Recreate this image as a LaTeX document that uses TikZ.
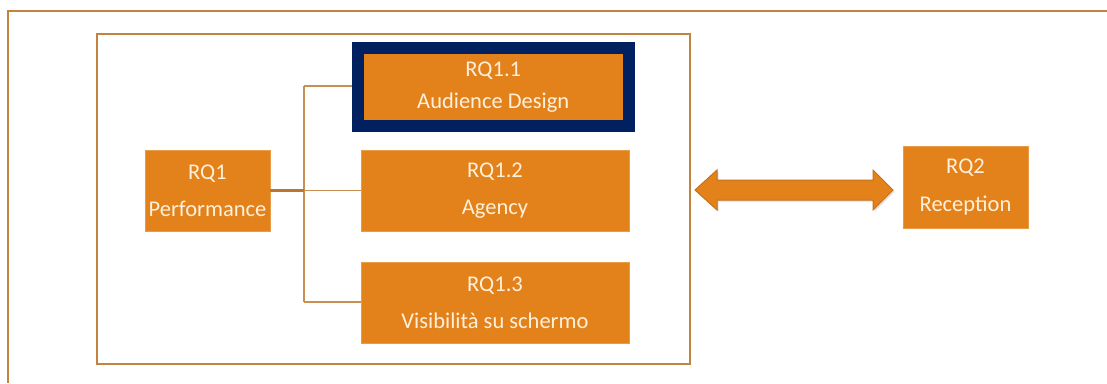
\documentclass[tikz,border=0pt]{standalone}
\usepackage{fontspec}
\setmainfont{Carlito}
\usetikzlibrary{calc}
\definecolor{boxorange}{HTML}{E3821A}
\definecolor{frameline}{HTML}{C2833E}
\definecolor{linkline}{HTML}{C98E52}
\definecolor{stemline}{HTML}{BC7630}
\definecolor{navy}{HTML}{002060}
\definecolor{paletext}{HTML}{FFF0DC}
\definecolor{arrowedge}{HTML}{C7711A}
\tikzset{
  rqbox/.style={fill=boxorange, draw=boxorange!80!white, line width=0.8pt,
    text=paletext, align=center, inner sep=0pt},
  link/.style={draw=linkline, line width=1.8pt},
  frame/.style={draw=frameline, line width=1.4pt},
}
\newcommand{\boxfont}[1]{\fontsize{22.5}{#1}\selectfont}
\begin{document}
\begin{tikzpicture}[x=1pt,y=-1pt]
\useasboundingbox (0,0) rectangle (1107,383);
\fill[white] (0,0) rectangle (1107,383);

% outer frame (open to the right and bottom)
\draw[frame] (1107,11) -- (8,11) -- (8,383);
% inner frame around RQ1
\draw[frame] (97,34) rectangle (690,364);

% boxes
\node[rqbox, minimum width=125pt, minimum height=81pt, font=\boxfont{37pt}]
  (rq1) at (207.5,190.5) {RQ1\\Performance};
\node[rqbox, draw=navy, line width=12pt, minimum width=271pt, minimum height=77.5pt,
  font=\boxfont{32pt}]
  (rq11) at (493.25,86.75) {RQ1.1\\Audience Design};
\node[rqbox, minimum width=268pt, minimum height=81pt, font=\boxfont{37pt}]
  (rq12) at (495,190.5) {RQ1.2\\Agency};
\node[rqbox, minimum width=268pt, minimum height=81pt, font=\boxfont{37pt}]
  (rq13) at (495,302.5) {RQ1.3\\Visibilità su schermo};
\node[rqbox, minimum width=125pt, minimum height=82pt, font=\boxfont{38pt}]
  (rq2) at (965.5,187) {RQ2\\Reception};

% tree connectors
\coordinate (jmid) at (304,190.5);
\coordinate (jtop) at (304,86);
\coordinate (jbot) at (304,302);
\draw[link] (jtop) -- (jbot);
\draw[link] (jtop) -- (jtop -| rq11.west);
\draw[link] (jbot) -- (jbot -| rq13.west);
\draw[link, draw=stemline, line width=2.6pt] (rq1.east) -- (jmid);
\draw[link] (jmid) -- (rq12.west);

% double-headed block arrow between RQ1 and RQ2
\coordinate (al) at (695,190);
\coordinate (ar) at (893,190);
\fill[black!25, opacity=0.5]
  ($(al)+(1.5,1.5)$) -- ++(22,-20) -- ++(0,10) -- ++(156,0) -- ++(0,-10)
  -- ++(20,20) -- ++(-20,20) -- ++(0,-10) -- ++(-156,0) -- ++(0,10) -- cycle;
\filldraw[fill=boxorange, draw=arrowedge, line width=1pt, line join=miter]
  (al) -- ++(22,-20) -- ++(0,10) -- ++(156,0) -- ++(0,-10)
  -- (ar) -- ++(-20,20) -- ++(0,-10) -- ++(-156,0) -- ++(0,10) -- cycle;
\end{tikzpicture}
\end{document}
